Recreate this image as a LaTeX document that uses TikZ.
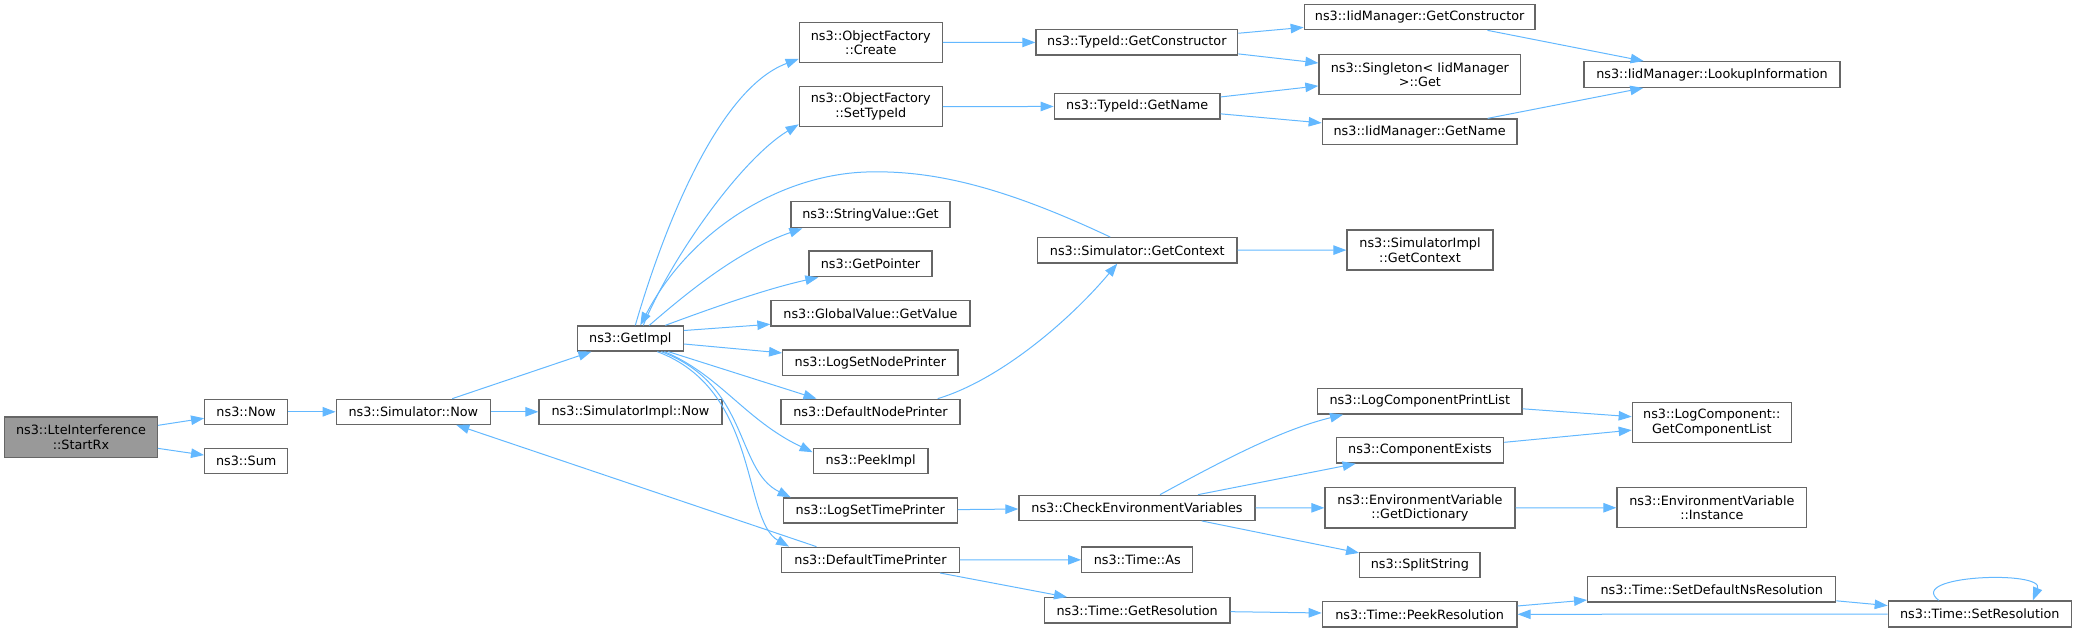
\documentclass[tikz,border=0pt]{standalone}
\usepackage{fontspec}
\setmainfont{DejaVu Sans}
\usetikzlibrary{arrows.meta,calc}
\definecolor{edgeblue}{HTML}{63B8FF}
\definecolor{boxline}{HTML}{666666}
\definecolor{rootfill}{HTML}{999999}
\tikzset{
  box/.style={draw=boxline, line width=1.3pt, fill=white, inner sep=0pt, align=center,
    font=\fontsize{12.8}{14.5}\selectfont, text=black},
  rootbox/.style={box, fill=rootfill},
  cl/.style={draw=edgeblue, line width=1pt, -{Triangle[length=13pt,width=9.5pt]}},
}
\newcommand\mkbox[7][]{%
  \pgfmathsetmacro\bxcx{(#3+#4)/2}%
  \pgfmathsetmacro\bxcy{(#5+#6)/2}%
  \pgfmathsetmacro\bxw{#4-#3}%
  \pgfmathsetmacro\bxh{#6-#5}%
  \node[box,#1,minimum width=\bxw pt,minimum height=\bxh pt] (#2) at (\bxcx,\bxcy) {#7};}
\begin{document}
\begin{tikzpicture}[x=1pt,y=-1pt]
\useasboundingbox (0,0) rectangle (2077,633);
% nodes
\mkbox[rootbox]{startrx}{4.7}{157.3}{417}{457.3}{ns3::LteInterference\\::StartRx}
\mkbox{now}{204.7}{287.7}{399.3}{424.3}{ns3::Now}
\mkbox{sum}{204.7}{287.7}{448.7}{473.7}{ns3::Sum}
\mkbox{simnow}{336.3}{490.3}{399.3}{424.3}{ns3::Simulator::Now}
\mkbox{getimpl}{577.3}{683.3}{326}{351}{ns3::GetImpl}
\mkbox{simimplnow}{539}{722}{399.3}{424.3}{ns3::SimulatorImpl::Now}
\mkbox{ofcreate}{799.3}{942.3}{22.7}{62.3}{ns3::ObjectFactory\\::Create}
\mkbox{ofsettype}{799.3}{942.3}{86.7}{126.7}{ns3::ObjectFactory\\::SetTypeId}
\mkbox{strget}{791}{950}{201.7}{227.7}{ns3::StringValue::Get}
\mkbox{getptr}{809}{932}{251}{276.7}{ns3::GetPointer}
\mkbox{gvget}{771}{970}{300.5}{326}{ns3::GlobalValue::GetValue}
\mkbox{logsetnode}{782.7}{958}{350}{375.3}{ns3::LogSetNodePrinter}
\mkbox{defnode}{781}{960}{399.3}{424.5}{ns3::DefaultNodePrinter}
\mkbox{peekimpl}{813.3}{928}{448.7}{473.7}{ns3::PeekImpl}
\mkbox{logsettime}{783.3}{957.3}{498}{523}{ns3::LogSetTimePrinter}
\mkbox{deftime}{781.7}{959.3}{547.3}{572.3}{ns3::DefaultTimePrinter}
\mkbox{getctor}{1036}{1237.7}{29.7}{55}{ns3::TypeId::GetConstructor}
\mkbox{tgetname}{1054.3}{1220}{93.7}{119}{ns3::TypeId::GetName}
\mkbox{simctx}{1037.5}{1237}{237.7}{263}{ns3::Simulator::GetContext}
\mkbox{checkenv}{1019}{1255}{495.3}{520.3}{ns3::CheckEnvironmentVariables}
\mkbox{timeas}{1081.7}{1192.7}{547}{572.7}{ns3::Time::As}
\mkbox{getres}{1044.3}{1230}{597.7}{623}{ns3::Time::GetResolution}
\mkbox{iidctor}{1304.3}{1535}{4.3}{29.7}{ns3::IidManager::GetConstructor}
\mkbox{singleton}{1319}{1520.7}{54.3}{94.7}{ns3::Singleton< IidManager\\>::Get}
\mkbox{iidname}{1322.3}{1517}{119}{144.3}{ns3::IidManager::GetName}
\mkbox{simimplctx}{1347}{1493}{230}{270}{ns3::SimulatorImpl\\::GetContext}
\mkbox{logcompprint}{1317.7}{1522}{388.7}{414}{ns3::LogComponentPrintList}
\mkbox{compexists}{1336.3}{1503.6}{437.7}{463}{ns3::ComponentExists}
\mkbox{getdict}{1325}{1515}{487.7}{528}{ns3::EnvironmentVariable\\::GetDictionary}
\mkbox{splitstr}{1359.7}{1480}{552.7}{577.7}{ns3::SplitString}
\mkbox{peekres}{1322.3}{1517}{601.7}{627}{ns3::Time::PeekResolution}
\mkbox{lookup}{1584}{1840}{61.7}{87.3}{ns3::IidManager::LookupInformation}
\mkbox{getcomplist}{1632.3}{1791.3}{402.7}{442.3}{ns3::LogComponent::\\GetComponentList}
\mkbox{envinst}{1617}{1806.7}{487.7}{527.7}{ns3::EnvironmentVariable\\::Instance}
\mkbox{setdefns}{1587.7}{1835.7}{576.7}{602}{ns3::Time::SetDefaultNsResolution}
\mkbox{setres}{1888.3}{2071.3}{601}{627}{ns3::Time::SetResolution}
% edges
\draw[cl] (startrx) -- (now);
\draw[cl] (startrx) -- (sum);
\draw[cl] (now) -- (simnow);
\draw[cl] (simnow) -- (getimpl);
\draw[cl] (simnow) -- (simimplnow);
\draw[cl] ($(deftime.north)+(-54,0)$) -- ($(simnow.south)+(43,0)$);
\draw[cl] ($(getimpl.north)+(5,0)$) .. controls (660,240) and (715,90) .. ($(ofcreate.south west)+(0,-4)$);
\draw[cl] ($(getimpl.north)+(13,0)$) .. controls (670,260) and (740,160) .. ($(ofsettype.south west)+(0,-3)$);
\draw[cl] ($(simctx.north)+(-27,0)$) .. controls (1000,185) and (930,170) .. (866,172)
   .. controls (780,175) and (690,230) .. ($(getimpl.north)+(10,0)$);
\draw[cl] ($(getimpl.north)+(19,0)$) .. controls (690,290) and (740,250) .. ($(strget.south west)+(12,0)$);
\draw[cl] ($(getimpl.north)+(35,0)$) .. controls (720,305) and (770,288) .. ($(getptr.south west)+(10,0)$);
\draw[cl] ($(getimpl.east)+(0,-8)$) -- ($(gvget.west)+(0,11)$);
\draw[cl] ($(getimpl.east)+(0,5.5)$) -- ($(logsetnode.west)+(0,-9.7)$);
\draw[cl] ($(getimpl.south)+(38,0)$) -- ($(defnode.north)+(-54,0)$);
\draw[cl] ($(getimpl.south)+(34,0)$) .. controls (720,375) and (745,420) .. ($(peekimpl.west)+(0,-9)$);
\draw[cl] ($(getimpl.south)+(31,0)$) .. controls (750,385) and (735,470) .. ($(logsettime.north west)+(8,0)$);
\draw[cl] ($(getimpl.south)+(27,0)$) .. controls (760,390) and (742,520) .. ($(deftime.north west)+(8,0)$);
\draw[cl] (ofcreate) -- (getctor);
\draw[cl] (ofsettype) -- (tgetname);
\draw[cl] (getctor) -- (iidctor);
\draw[cl] (getctor) -- (singleton);
\draw[cl] (tgetname) -- (singleton);
\draw[cl] (tgetname) -- (iidname);
\draw[cl] (iidctor) -- (lookup);
\draw[cl] (iidname) -- (lookup);
\draw[cl] (simctx) -- (simimplctx);
\draw[cl] ($(defnode.north east)+(-23,0)$) .. controls (1000,380) and (1070,320) .. ($(simctx.south)+(-20,0)$);
\draw[cl] (logsettime) -- (checkenv);
\draw[cl] ($(checkenv.north)+(23,0)$) .. controls (1220,462) and (1280,430) .. ($(logcompprint.south west)+(26,0)$);
\draw[cl] ($(checkenv.north)+(61,0)$) -- ($(compexists.south west)+(20,0)$);
\draw[cl] (checkenv) -- (getdict);
\draw[cl] (checkenv) -- (splitstr);
\draw[cl] (deftime) -- (timeas);
\draw[cl] (deftime) -- (getres);
\draw[cl] (getres) -- (peekres);
\draw[cl] (logcompprint) -- (getcomplist);
\draw[cl] (compexists) -- (getcomplist);
\draw[cl] (getdict) -- (envinst);
\draw[cl] (peekres) -- (setdefns);
\draw[cl] (setdefns) -- (setres);
\draw[cl] (setres) -- (peekres);
\draw[cl] ($(setres.north)+(-41,0)$) .. controls (1905,575) and (2045,570) .. ($(setres.north)+(53,0)$);
\end{tikzpicture}
\end{document}
